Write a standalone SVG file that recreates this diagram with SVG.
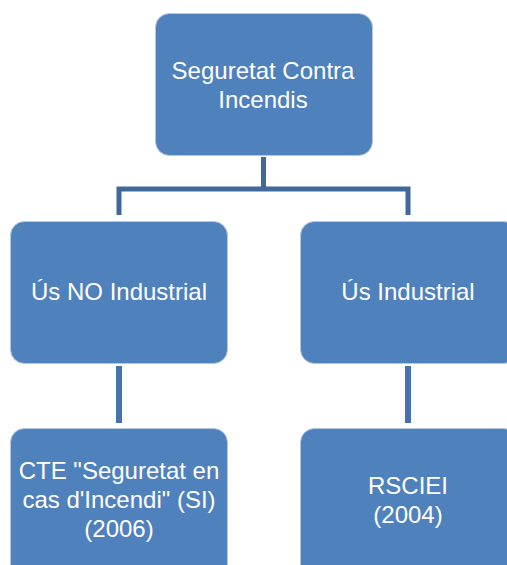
<svg xmlns="http://www.w3.org/2000/svg" width="507" height="565" viewBox="0 0 507 565">
<style>
.box{fill:#4f81bd;stroke:#b4c8e1;stroke-width:1}
.t{font-family:"Liberation Sans",Arial,sans-serif;font-size:24px;fill:#ffffff;text-anchor:middle}
.c1{stroke:#41689a;stroke-width:5;fill:none}
.c2{stroke:#4673ad;stroke-width:6;fill:none}
</style>
<rect width="507" height="565" fill="#ffffff"/>
<g id="connectors">
<path class="c1" d="M263.5 157 V189 M119 215 V189 H408 V215"/>
<line class="c2" x1="119" y1="366" x2="119" y2="423"/>
<line class="c2" x1="408" y1="366" x2="408" y2="423"/>
</g>
<g id="n-root">
<rect class="box" x="155.5" y="13.5" width="217" height="142" rx="14"/>
<text class="t" x="263" y="79">Seguretat Contra</text>
<text class="t" x="263" y="108">Incendis</text>
</g>
<g id="n-no-industrial">
<rect class="box" x="10.5" y="221.5" width="217" height="142" rx="14"/>
<text class="t" x="119" y="300">Ús NO Industrial</text>
</g>
<g id="n-industrial">
<rect class="box" x="300.5" y="221.5" width="217" height="142" rx="14"/>
<text class="t" x="408" y="300">Ús Industrial</text>
</g>
<g id="n-cte">
<rect class="box" x="10.5" y="428.5" width="217" height="160" rx="14"/>
<text class="t" x="119" y="479">CTE "Seguretat en</text>
<text class="t" x="119" y="508">cas d'Incendi" (SI)</text>
<text class="t" x="119" y="537">(2006)</text>
</g>
<g id="n-rsciei">
<rect class="box" x="300.5" y="428.5" width="217" height="160" rx="14"/>
<text class="t" x="408" y="494">RSCIEI</text>
<text class="t" x="408" y="523">(2004)</text>
</g>
</svg>
